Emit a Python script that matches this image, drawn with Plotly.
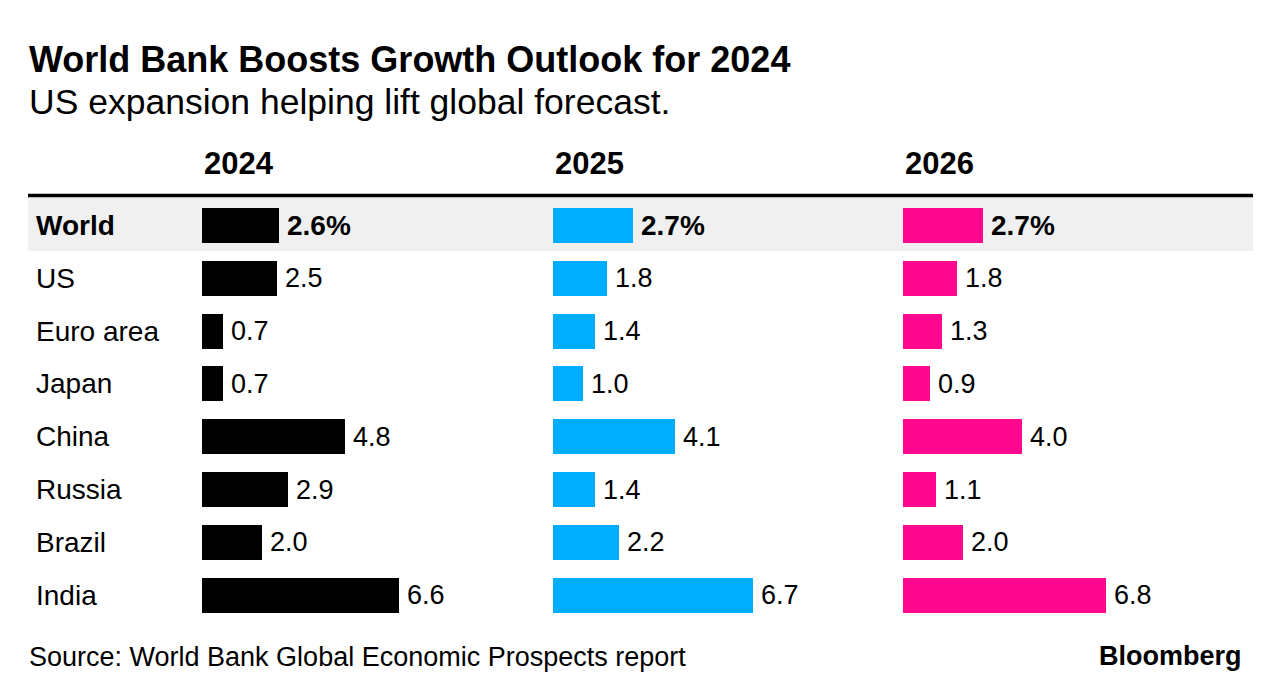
import plotly.graph_objects as go

# ---- data ----
regions = ["World", "US", "Euro area", "Japan", "China", "Russia", "Brazil", "India"]
years = ["2024", "2025", "2026"]
growth_2024 = [2.6, 2.5, 0.7, 0.7, 4.8, 2.9, 2.0, 6.6]
growth_2025 = [2.7, 1.8, 1.4, 1.0, 4.1, 1.4, 2.2, 6.7]
growth_2026 = [2.7, 1.8, 1.3, 0.9, 4.0, 1.1, 2.0, 6.8]
series = [growth_2024, growth_2025, growth_2026]
colors = ["#000000", "#00adff", "#ff078f"]

title = "World Bank Boosts Growth Outlook for 2024"
subtitle = "US expansion helping lift global forecast."
source = "Source: World Bank Global Economic Prospects report"

# ---- layout geometry (reference-page pixels) ----
OFF = 8  # default body margin of the html page
W, H = 1281 - OFF, 700 - OFF
FONT = "Liberation Sans, Arial, sans-serif"
col_start = [202, 553, 903]
col_width = 330
px_per_unit = 29.8
row0_center = 225.5 - OFF
row_step = 52.8
bar_px = 35

def px(x):
    return (x - OFF) / W

def py(y):
    return 1 - (y - OFF) / H

fig = go.Figure()
annotations = []
for k, (vals, col) in enumerate(zip(series, colors)):
    axis_id = "" if k == 0 else str(k + 1)
    fig.add_trace(go.Bar(
        x=vals, y=regions, orientation="h",
        marker=dict(color=col, line=dict(width=0)),
        width=bar_px / row_step,
        xaxis="x" + axis_id, yaxis="y",
        hoverinfo="skip", showlegend=False,
    ))
    for r, v in zip(regions, vals):
        bold = r == "World"
        txt = f"<b>{v:.1f}%</b>" if bold else f"{v:.1f}"
        annotations.append(dict(
            x=v, y=r, xref="x" + axis_id, yref="y",
            text=txt, showarrow=False, xanchor="left", yanchor="middle",
            xshift=6, font=dict(family=FONT, size=28 if bold else 27, color="#000000"),
        ))
    annotations.append(dict(
        x=0, y=py(163), xref=("x" + axis_id) + " domain", yref="paper",
        text=f"<b>{years[k]}</b>", showarrow=False, xanchor="left", yanchor="middle",
        font=dict(family=FONT, size=31, color="#000000"),
    ))
    dom = [px(col_start[k]), px(col_start[k] + col_width)]
    ax = dict(domain=dom, range=[0, col_width / px_per_unit], visible=False,
              fixedrange=True, anchor="y")
    fig.update_layout(**{"xaxis" + axis_id: ax})

for r in regions:
    annotations.append(dict(
        x=px(34), y=r, xref="paper", yref="y",
        text=f"<b>{r}</b>" if r == "World" else r,
        showarrow=False, xanchor="left", yanchor="middle",
        font=dict(family=FONT, size=28, color="#000000"),
    ))

annotations += [
    dict(x=px(27), y=py(59), xref="paper", yref="paper", text=f"<b>{title}</b>",
         showarrow=False, xanchor="left", yanchor="middle",
         font=dict(family=FONT, size=36, color="#000000")),
    dict(x=px(27), y=py(102), xref="paper", yref="paper", text=subtitle,
         showarrow=False, xanchor="left", yanchor="middle",
         font=dict(family=FONT, size=35.5, color="#000000")),
    dict(x=px(27), y=py(657), xref="paper", yref="paper", text=source,
         showarrow=False, xanchor="left", yanchor="middle",
         font=dict(family=FONT, size=27, color="#000000")),
    dict(x=px(1244), y=py(656), xref="paper", yref="paper", text="<b>Bloomberg</b>",
         showarrow=False, xanchor="right", yanchor="middle",
         font=dict(family=FONT, size=27, color="#000000")),
]

y_top = -row0_center / row_step
y_bot = (H - row0_center) / row_step

fig.update_layout(
    width=W, height=H,
    margin=dict(l=0, r=0, t=0, b=0),
    paper_bgcolor="#ffffff", plot_bgcolor="rgba(0,0,0,0)",
    yaxis=dict(domain=[0, 1], range=[y_bot, y_top], visible=False, fixedrange=True,
               categoryorder="array", categoryarray=regions),
    bargap=0,
    barmode="overlay",
    annotations=annotations,
    shapes=[
        dict(type="rect", xref="paper", yref="paper", x0=px(28), x1=px(1253),
             y0=py(197), y1=py(251), fillcolor="#f0f0f0", line=dict(width=0), layer="below"),
        dict(type="line", xref="paper", yref="paper", x0=px(28), x1=px(1253),
             y0=py(195.5), y1=py(195.5), line=dict(color="#000000", width=3.5)),
    ],
)

fig.write_html("out.html")
